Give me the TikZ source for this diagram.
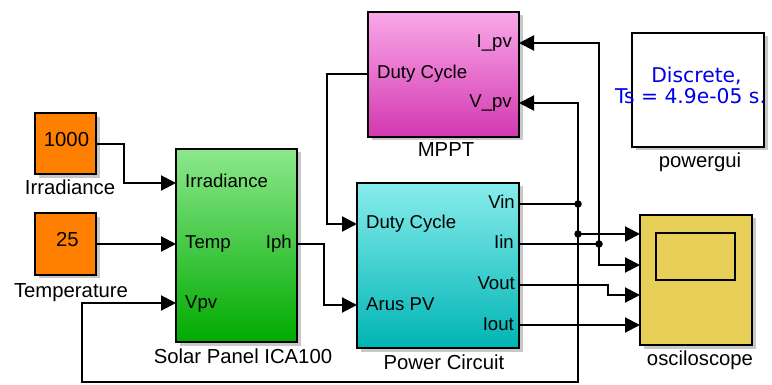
\documentclass[tikz,border=0pt]{standalone}
\usepackage{fontspec}
\setmainfont{Liberation Sans}
\newfontfamily\guifont{DejaVu Sans}
\usetikzlibrary{arrows.meta,shadows,calc}
\definecolor{orng}{RGB}{255,128,0}
\definecolor{grnTop}{RGB}{140,232,140}
\definecolor{grnBot}{RGB}{0,170,0}
\definecolor{magTop}{RGB}{250,168,232}
\definecolor{magBot}{RGB}{210,56,176}
\definecolor{cyTop}{RGB}{136,236,236}
\definecolor{cyBot}{RGB}{0,180,180}
\definecolor{yel}{RGB}{232,208,88}
\definecolor{guiblue}{RGB}{0,0,230}
\begin{document}
\begin{tikzpicture}[x=1pt,y=-1pt,
  blk/.style={draw=black, line width=2pt, inner sep=0pt,
    drop shadow={shadow xshift=3.5pt, shadow yshift=-3.5pt, opacity=0.3, fill=black!70}},
  portlbl/.style={inner sep=0pt, font=\fontsize{18.6}{20}\selectfont},
  namelbl/.style={inner sep=0pt, font=\fontsize{20.3}{22}\selectfont},
  conn/.style={line width=2pt},
  arr/.style={conn, -{Triangle[length=15pt,width=15pt]}},
  jdot/.style={circle, fill=black, inner sep=0pt, minimum size=7.5pt},
]
\useasboundingbox (0,0) rectangle (772,385);
\fill[white] (0,0) rectangle (772,385);

% blocks
\node[blk, fill=orng, minimum width=61pt, minimum height=61pt] (c1000) at (65.5,144) {};
\node[namelbl, anchor=base] (c1000t) at (66.5,147) {1000};
\node[namelbl, anchor=base] (c1000n) at (70,195) {Irradiance};

\node[blk, fill=orng, minimum width=61pt, minimum height=61pt] (c25) at (65.5,244) {};
\node[namelbl, anchor=base] (c25t) at (67.5,247) {25};
\node[namelbl, anchor=base] (c25n) at (71,297.5) {Temperature};

\node[blk, top color=grnTop, bottom color=grnBot, minimum width=121pt, minimum height=193pt] (solar) at (236.5,245.5) {};
\node[namelbl, anchor=base] (solarn) at (243,363) {Solar Panel ICA100};
\node[portlbl, anchor=base west] (sIrrT) at (185,188) {Irradiance};
\node[portlbl, anchor=base west] (sTempT) at (185,249) {Temp};
\node[portlbl, anchor=base west] (sVpvT) at (185,308) {Vpv};
\node[portlbl, anchor=base east] (sIphT) at (292,249) {Iph};

\node[blk, top color=cyTop, bottom color=cyBot, minimum width=162pt, minimum height=165pt] (pc) at (438,265.5) {};
\node[namelbl, anchor=base] (pcn) at (444,369) {Power Circuit};
\node[portlbl, anchor=base west] (pDutyT) at (366,229) {Duty Cycle};
\node[portlbl, anchor=base west] (pArusT) at (366,310) {Arus PV};
\node[portlbl, anchor=base east] (pVinT) at (515,209) {Vin};
\node[portlbl, anchor=base east] (pIinT) at (514,249) {Iin};
\node[portlbl, anchor=base east] (pVoutT) at (515,290) {Vout};
\node[portlbl, anchor=base east] (pIoutT) at (514,330) {Iout};

\node[blk, top color=magTop, bottom color=magBot, minimum width=151pt, minimum height=125pt] (mppt) at (443.5,74.5) {};
\node[namelbl, anchor=base] (mpptn) at (446,157) {MPPT};
\node[portlbl, anchor=base west] (mDutyT) at (377,79) {Duty Cycle};
\node[portlbl, anchor=base east] (mIpvT) at (512,48) {I\_pv};
\node[portlbl, anchor=base east] (mVpvT) at (512,108) {V\_pv};

\node[blk, fill=white, minimum width=132pt, minimum height=114pt] (pgui) at (698,90) {};
\node[inner sep=0pt, anchor=base, text=guiblue, font=\guifont\fontsize{20.3}{22}\selectfont] (pguit1) at (696.5,83) {Discrete,};
\node[inner sep=0pt, anchor=base, text=guiblue, font=\guifont\fontsize{20.3}{22}\selectfont] (pguit2) at (690.5,104) {Ts = 4.9e-05 s.};
\node[namelbl, anchor=base] (pguin) at (700,168) {powergui};

\node[blk, fill=yel, minimum width=112pt, minimum height=130pt] (scope) at (696,280) {};
\node[draw=black, line width=2pt, inner sep=0pt, minimum width=79pt, minimum height=47pt] (scopescr) at (695.5,256.5) {};
\node[namelbl, anchor=base] (scopen) at (700,365) {osciloscope};

% ports
\coordinate (sIrr) at (176,183);
\coordinate (sVpv) at (176,303);
\coordinate (sIph) at (297,244);
\coordinate (pDuty) at (357,224);
\coordinate (pArus) at (357,305);
\coordinate (pVin) at (519,204);
\coordinate (pIin) at (519,244);
\coordinate (pVout) at (519,285);
\coordinate (pIout) at (519,325);
\coordinate (mDuty) at (368,74);
\coordinate (mIpv) at (519,43);
\coordinate (mVpv) at (519,103);
\coordinate (sc1) at (640,234);
\coordinate (sc2) at (640,265);
\coordinate (sc3) at (640,295);
\coordinate (sc4) at (640,325);
\coordinate (loopR) at (578,382);
\coordinate (loopL) at (82,382);

\node[jdot] (jVin) at (578,204) {};
\node[jdot] (j1) at (578,234) {};
\node[jdot] (jIin) at (599,244) {};

% connectors
\draw[arr] (c1000.east) -- ++(27,0) |- (sIrr);
\draw[arr] (c25.east) -- (c25.east -| sIrr);
\draw[arr] (sIph) -- ++(27,0) |- (pArus);
\draw[arr] (mDuty) -- ++(-41,0) |- (pDuty);
\draw[conn] (pVin) -- (jVin.center);
\draw[arr] (jVin.center) |- (mVpv);
\draw[conn] (jVin.center) -- (j1.center);
\draw[arr] (j1.center) -- (sc1);
\draw[arr] (j1.center) -- (loopR) -- (loopL) |- (sVpv);
\draw[conn] (pIin) -- (jIin.center);
\draw[arr] (jIin.center) |- (mIpv);
\draw[arr] (jIin.center) |- (sc2);
\draw[arr] (pVout) -- ++(89,0) |- (sc3);
\draw[arr] (pIout) -- (sc4);
\end{tikzpicture}
\end{document}
